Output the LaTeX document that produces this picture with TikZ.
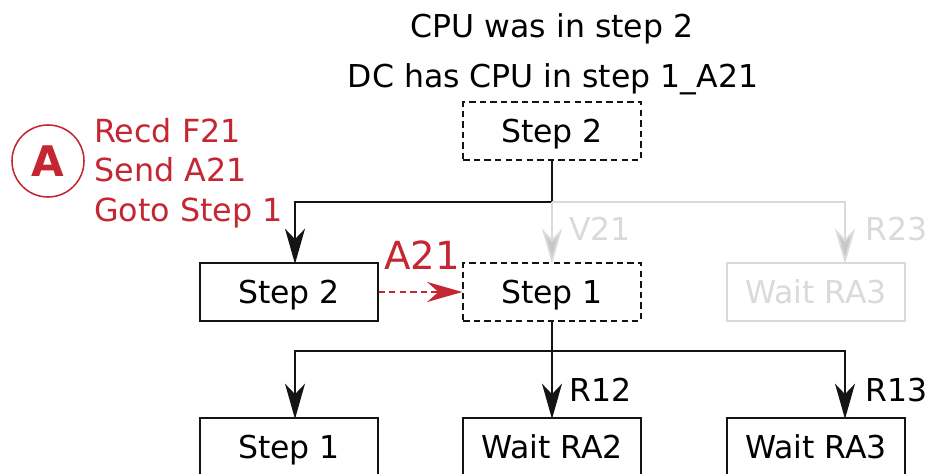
\documentclass[tikz,border=0pt]{standalone}
\usepackage{fontspec}
\setmainfont{DejaVu Sans}
\usepackage{tikz}
\usetikzlibrary{arrows.meta, positioning, calc}
\usepackage{xcolor}
\definecolor{CR}{RGB}{196,38,50}
\definecolor{LG}{RGB}{218,218,218}
\definecolor{DG}{RGB}{20,20,20}

\begin{document}
\begin{tikzpicture}[
  x=0.025cm, y=-0.025cm,
  box/.style={draw=DG, line width=1.4pt, minimum width=4.43cm,
              minimum height=1.46cm, inner sep=0pt, text depth=0pt,
              font=\fontsize{22.4}{26}\selectfont},
  dbox/.style={box, dashed, dash pattern=on 4.5pt off 3pt},
  gbox/.style={box, draw=LG, text=LG},
  lbl/.style={font=\fontsize{22.4}{26}\selectfont, anchor=west, inner sep=0pt},
  arr/.style={draw=DG, line width=1.4pt, shorten >=-1.5pt,
              -{Stealth[length=0.88cm, width=0.5cm, inset=0.26cm]}},
  garr/.style={draw=LG, line width=1.4pt, shorten >=-1.5pt,
               -{Stealth[length=0.88cm, width=0.5cm, inset=0.26cm, fill=black!22, color=black!14]}},
  line/.style={draw=DG, line width=1.4pt}
]
\useasboundingbox (0,0) rectangle (930,474);

% Header
\node[font=\fontsize{22.4}{26}\selectfont] (cap1) at (552,29) {CPU was in step 2};
\node[font=\fontsize{22.4}{26}\selectfont] (cap2) at (553,79) {DC has CPU in step 1\_A21};

% Action note
\node[draw=CR, line width=1.1pt, circle, minimum size=1.8cm, inner sep=0pt,
      text=CR, font=\fontsize{30}{32}\selectfont\bfseries] (A) at (48,161) {A};
\node[text=CR, align=left, anchor=west, inner sep=0pt,
      font=\fontsize{22.6}{28.2}\selectfont] (note) at (94,173)
  {Recd F21\\Send A21\\Goto Step 1};

% Top state
\node[dbox] (T) at (552,131) {Step 2};

% Middle row
\node[box]  (M1) at (289,292) {Step 2};
\node[dbox] (M2) at (552,292) {Step 1};
\node[gbox] (M3) at (816,292) {Wait RA3};

\coordinate (J1) at (552,202);
\draw[line] (T.south) -- (J1);
\draw[arr] (J1) -| ($(M1.north)+(6,0)$);
\draw[garr] (J1) -- (M2.north);
\draw[garr] (J1) -| ($(M3.north)+(29,0)$);
\node[lbl, text=LG] (V21) at (569,229) {V21};
\node[lbl, text=LG] (R23) at (865,229) {R23};

% Transfer A21
\draw[draw=CR, line width=1.2pt, dashed, dash pattern=on 4.5pt off 3pt,
      -{Stealth[length=0.88cm, width=0.5cm, inset=0.28cm, fill=CR, color=CR]}]
  (M1.east) -- (M2.west);
\node[text=CR, font=\fontsize{27.5}{30}\selectfont] (A21) at (422,255) {A21};

% Bottom row
\node[box] (B1) at (289,447) {Step 1};
\node[box] (B2) at (552,447) {Wait RA2};
\node[box] (B3) at (816,447) {Wait RA3};

\coordinate (J2) at (552,351);
\draw[line] (M2.south) -- (J2);
\draw[arr] (J2) -| ($(B1.north)+(6,0)$);
\draw[arr] (J2) -- (B2.north);
\draw[arr] (J2) -| ($(B3.north)+(29,0)$);
\node[lbl] (R12) at (569,390) {R12};
\node[lbl] (R13) at (865,390) {R13};
\end{tikzpicture}
\end{document}
